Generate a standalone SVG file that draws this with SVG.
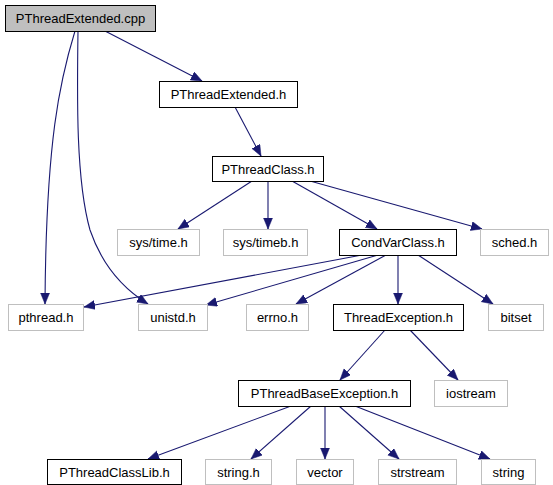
<svg xmlns="http://www.w3.org/2000/svg" width="553" height="485" viewBox="0 0 553 485">
<style>
text{font-family:"Liberation Sans",Arial,sans-serif;font-size:13px;fill:#000;text-anchor:middle}
.doc{fill:#fff;stroke:#000;stroke-width:1}
.ext{fill:#fff;stroke:#bfbfbf;stroke-width:1}
.root{fill:#bfbfbf;stroke:#000;stroke-width:1}
.e{fill:none;stroke:#191970;stroke-width:1.1;marker-end:url(#ah)}
</style>
<defs>
<marker id="ah" markerUnits="userSpaceOnUse" markerWidth="12" markerHeight="10" refX="11" refY="4.5" orient="auto">
<path d="M0,0 L11,4.5 L0,9 z" fill="#191970" stroke="#191970" stroke-width="0.5"/>
</marker>
</defs>
<g id="edges">
<path class="e" d="M105,31 L202,81"/>
<path class="e" d="M75,31 C60,80 46,140 45,304"/>
<path class="e" d="M78,31 C77,100 76,180 90,230 C102,265 122,288 148,304"/>
<path class="e" d="M235,107 L261,156"/>
<path class="e" d="M252,181 L178,229"/>
<path class="e" d="M268,181 L268,229"/>
<path class="e" d="M292,181 L377,229"/>
<path class="e" d="M310,181 L482,229"/>
<path class="e" d="M362,255 L84,307"/>
<path class="e" d="M378,255 L206,305"/>
<path class="e" d="M386,255 L296,304"/>
<path class="e" d="M398,255 L398,304"/>
<path class="e" d="M418,255 L493,304"/>
<path class="e" d="M385,330 L340,380"/>
<path class="e" d="M410,330 L458,380"/>
<path class="e" d="M291,406 L148,459"/>
<path class="e" d="M311,406 L251,459"/>
<path class="e" d="M325,406 L325,459"/>
<path class="e" d="M339,406 L399,459"/>
<path class="e" d="M355,406 L490,459"/>
</g>
<g id="n_cpp"><rect class="root" x="5.5" y="5.5" width="150" height="26"/><text x="80.5" y="23">PThreadExtended.cpp</text></g>
<g id="n_pte"><rect class="doc" x="159.5" y="81.5" width="138" height="26"/><text x="228.5" y="99">PThreadExtended.h</text></g>
<g id="n_ptc"><rect class="doc" x="212.5" y="156.5" width="111" height="25"/><text x="268" y="173.5">PThreadClass.h</text></g>
<g id="n_systime"><rect class="ext" x="117.5" y="229.5" width="82" height="26"/><text x="158.5" y="247">sys/time.h</text></g>
<g id="n_systimeb"><rect class="ext" x="223.5" y="229.5" width="84" height="26"/><text x="265.5" y="247">sys/timeb.h</text></g>
<g id="n_condvar"><rect class="doc" x="339.5" y="229.5" width="117" height="26"/><text x="398" y="247">CondVarClass.h</text></g>
<g id="n_sched"><rect class="ext" x="480.5" y="229.5" width="68" height="26"/><text x="514.5" y="247">sched.h</text></g>
<g id="n_pthread"><rect class="ext" x="8.5" y="304.5" width="75" height="26"/><text x="46" y="322">pthread.h</text></g>
<g id="n_unistd"><rect class="ext" x="138.5" y="304.5" width="69" height="26"/><text x="173" y="322">unistd.h</text></g>
<g id="n_errno"><rect class="ext" x="246.5" y="304.5" width="62" height="26"/><text x="277.5" y="322">errno.h</text></g>
<g id="n_threadexc"><rect class="doc" x="333.5" y="304.5" width="130" height="26"/><text x="398.5" y="322">ThreadException.h</text></g>
<g id="n_bitset"><rect class="ext" x="488.5" y="304.5" width="55" height="26"/><text x="516" y="322">bitset</text></g>
<g id="n_pbe"><rect class="doc" x="238.5" y="380.5" width="172" height="26"/><text x="324.5" y="398">PThreadBaseException.h</text></g>
<g id="n_iostream"><rect class="ext" x="434.5" y="380.5" width="73" height="26"/><text x="471" y="398">iostream</text></g>
<g id="n_ptcl"><rect class="doc" x="47.5" y="459.5" width="134" height="25"/><text x="114.5" y="476.5">PThreadClassLib.h</text></g>
<g id="n_stringh"><rect class="ext" x="205.5" y="459.5" width="66" height="25"/><text x="238.5" y="476.5">string.h</text></g>
<g id="n_vector"><rect class="ext" x="296.5" y="459.5" width="57" height="25"/><text x="325" y="476.5">vector</text></g>
<g id="n_strstream"><rect class="ext" x="378.5" y="459.5" width="78" height="25"/><text x="417.5" y="476.5">strstream</text></g>
<g id="n_string"><rect class="ext" x="481.5" y="459.5" width="54" height="25"/><text x="508.5" y="476.5">string</text></g>
</svg>
